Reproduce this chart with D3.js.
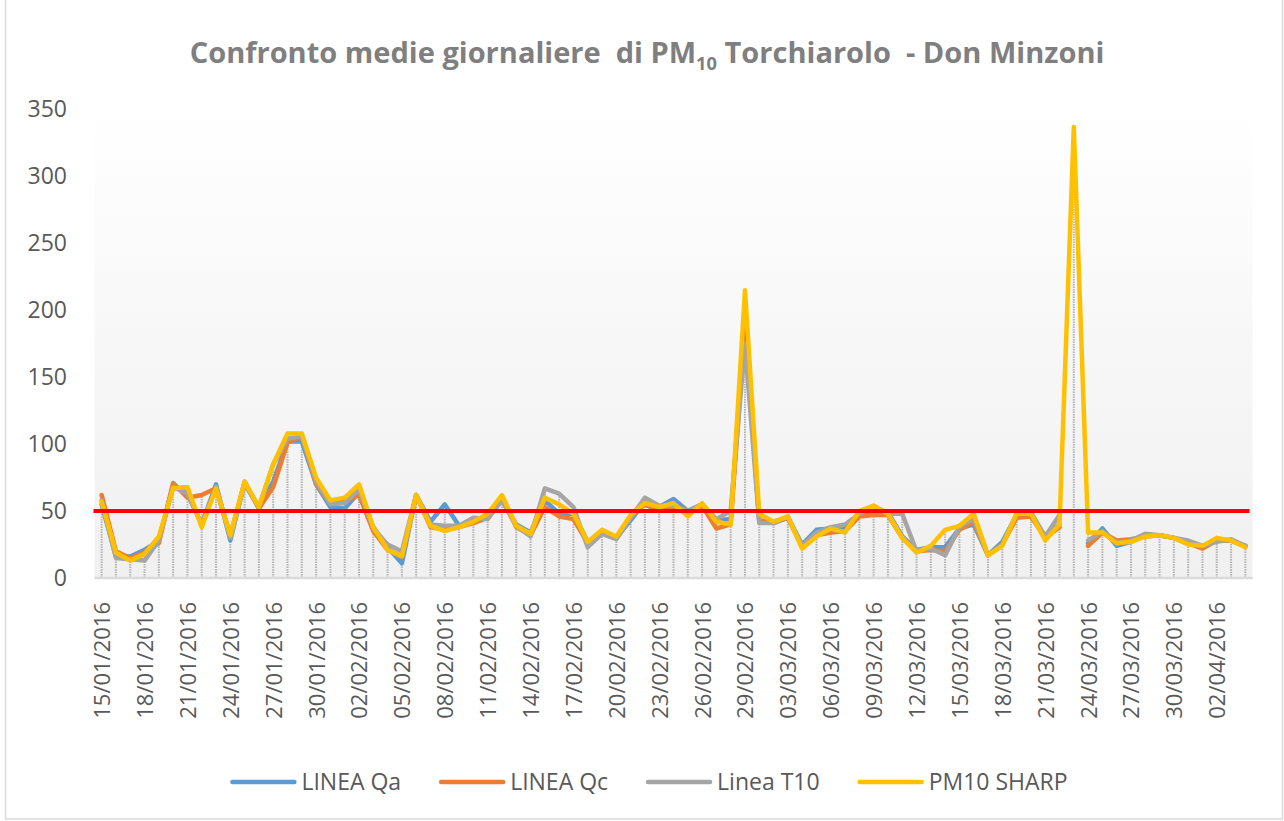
<!DOCTYPE html>
<html>
<head>
<meta charset="utf-8">
<script src="https://cdn.jsdelivr.net/npm/d3@7"></script>
<style>
  body { margin: 0; background: #fff; }
  svg { display: block; font-family: "Open Sans", "Noto Sans", sans-serif; }
</style>
</head>
<body>
<div id="chart"></div>
<script>
// ----------------------------------------------
// Data
// ----------------------------------------------
const dates = [
  '15/01/2016','16/01/2016','17/01/2016','18/01/2016','19/01/2016','20/01/2016','21/01/2016','22/01/2016','23/01/2016',
  '24/01/2016','25/01/2016','26/01/2016','27/01/2016','28/01/2016','29/01/2016','30/01/2016','31/01/2016','01/02/2016',
  '02/02/2016','03/02/2016','04/02/2016','05/02/2016','06/02/2016','07/02/2016','08/02/2016','09/02/2016','10/02/2016',
  '11/02/2016','12/02/2016','13/02/2016','14/02/2016','15/02/2016','16/02/2016','17/02/2016','18/02/2016','19/02/2016',
  '20/02/2016','21/02/2016','22/02/2016','23/02/2016','24/02/2016','25/02/2016','26/02/2016','27/02/2016','28/02/2016',
  '29/02/2016','01/03/2016','02/03/2016','03/03/2016','04/03/2016','05/03/2016','06/03/2016','07/03/2016','08/03/2016',
  '09/03/2016','10/03/2016','11/03/2016','12/03/2016','13/03/2016','14/03/2016','15/03/2016','16/03/2016','17/03/2016',
  '18/03/2016','19/03/2016','20/03/2016','21/03/2016','22/03/2016','23/03/2016','24/03/2016','25/03/2016','26/03/2016',
  '27/03/2016','28/03/2016','29/03/2016','30/03/2016','31/03/2016','01/04/2016','02/04/2016','03/04/2016','04/04/2016'
];

const lineaQa = [
  55, 16, 16, 21, 28, 70, 63, 40, 70, 28, 72, 52, 72, 102, 102, 70, 53, 52, 64, 38, 23, 11, 62, 42, 55, 39, 42,
  46, 58, 40, 34, 58, 48, 48, 27, 34, 30, 43, 57, 53, 59, 50, 55, 43, 44, 195, 42, 41, 45, 25, 36, 37, 37, 47,
  50, 49, 31, 21, 23, 23, 37, 40, 17, 27, 47, 48, 30, 40, null, 26, 37, 24, 27, 32, 32, 30, 26, 24, 28, 28, 24
];
const lineaQc = [
  62, 20, 15, 19, 26, 71, 60, 62, 67, 32, 71, 52, 68, 101, 106, 70, 56, 57, 62, 35, 21, 16, 62, 38, 36, 38, 41,
  45, 60, 38, 32, 53, 46, 44, 26, 34, 30, 46, 55, 50, 54, 48, 54, 37, 40, 190, 43, 42, 45, 23, 32, 34, 35, 46,
  47, 47, 30, 20, 21, 20, 36, 42, 17, 25, 45, 46, 30, 38, null, 24, 34, 28, 29, 31, 32, 30, 26, 22, 28, 28, 24
];
const lineaT10 = [
  58, 15, 14, 13, 28, 68, 63, 40, 68, 30, 70, 53, 85, 104, 106, 72, 55, 56, 66, 37, 25, 20, 62, 40, 39, 39, 45,
  44, 58, 39, 31, 67, 63, 53, 23, 33, 29, 45, 60, 54, 54, 50, 55, 44, 50, 175, 41, 41, 46, 24, 34, 38, 40, 48,
  54, 48, 48, 20, 22, 17, 38, 44, 17, 25, 48, 49, 31, 47, null, 28, 35, 26, 28, 33, 32, 30, 28, 24, 27, 29, 24
];
const pm10Sharp = [
  57, 19, 13, 18, 31, 67, 68, 38, 67, 32, 72, 53, 85, 108, 108, 75, 58, 60, 70, 38, 21, 16, 62, 39, 35, 38, 42,
  48, 62, 39, 33, 60, 55, 48, 27, 36, 31, 47, 56, 53, 56, 46, 56, 42, 40, 215, 48, 42, 46, 22, 31, 37, 34, 50,
  54, 48, 30, 19, 24, 36, 39, 48, 17, 24, 48, 48, 28, 40, 337, 34, 34, 26, 27, 31, 32, 30, 25, 24, 30, 28, 23
];

const seriesNames = ['LINEA Qa', 'LINEA Qc', 'Linea T10', 'PM10 SHARP'];
const seriesColors = ['#5B9BD5', '#ED7D31', '#A5A5A5', '#FFC000'];
const seriesValues = [lineaQa, lineaQc, lineaT10, pm10Sharp];

const yTicks = [0, 50, 100, 150, 200, 250, 300, 350];
const limitValue = 50;

// ----------------------------------------------
// Layout
// ----------------------------------------------
const width = 1284, height = 821;
const plot = { left: 94.5, right: 1252.5, top: 109.5, bottom: 578 };

const svg = d3.select('#chart').append('svg')
  .attr('width', width)
  .attr('height', height);

// chart area + border
svg.append('rect')
  .attr('x', 5.5).attr('y', -1)
  .attr('width', 1277).attr('height', 820)
  .attr('fill', '#fff')
  .attr('stroke', '#d9d9d9')
  .attr('stroke-width', 1.5);

const x = d3.scalePoint()
  .domain(dates)
  .range([plot.left, plot.right])
  .padding(0.5);

const y = d3.scaleLinear()
  .domain([0, 350])
  .range([plot.bottom, plot.top]);

// plot background gradient
const grad = svg.append('defs').append('linearGradient')
  .attr('id', 'plotBg')
  .attr('x1', 0).attr('y1', 0).attr('x2', 0).attr('y2', 1);
grad.append('stop').attr('offset', '0%').attr('stop-color', '#ffffff');
grad.append('stop').attr('offset', '45%').attr('stop-color', '#f8f8f8');
grad.append('stop').attr('offset', '100%').attr('stop-color', '#f0f0f0');

svg.append('rect')
  .attr('x', plot.left)
  .attr('y', plot.top)
  .attr('width', plot.right - plot.left)
  .attr('height', plot.bottom - plot.top)
  .attr('fill', 'url(#plotBg)');

// drop lines (from the highest value down to the axis)
svg.append('g')
  .selectAll('line')
  .data(dates)
  .join('line')
  .attr('x1', d => x(d))
  .attr('x2', d => x(d))
  .attr('y1', y(0))
  .attr('y2', (d, i) => y(d3.max(seriesValues, s => s[i])))
  .attr('stroke', '#b4b4b4')
  .attr('stroke-width', 2)
  .attr('stroke-dasharray', '1.5,1');

// axis line
svg.append('line')
  .attr('x1', plot.left).attr('x2', plot.right)
  .attr('y1', y(0)).attr('y2', y(0))
  .attr('stroke', '#d9d9d9')
  .attr('stroke-width', 2.5);

// series lines
const line = d3.line()
  .defined(d => d.v != null)
  .x(d => x(d.date))
  .y(d => y(d.v));

seriesValues.forEach((vals, k) => {
  svg.append('path')
    .datum(vals.map((v, i) => ({ date: dates[i], v })))
    .attr('fill', 'none')
    .attr('stroke', seriesColors[k])
    .attr('stroke-width', 4.5)
    .attr('stroke-linejoin', 'round')
    .attr('stroke-linecap', 'round')
    .attr('d', line);
});

// limit line at 50
svg.append('line')
  .attr('x1', plot.left - 1).attr('x2', plot.right - 3)
  .attr('y1', y(limitValue)).attr('y2', y(limitValue))
  .attr('stroke', '#ff0000')
  .attr('stroke-width', 4);

// ----------------------------------------------
// Axes
// ----------------------------------------------
const yAxis = svg.append('g')
  .attr('transform', 'translate(70,0)')
  .call(d3.axisLeft(y).tickValues(yTicks).tickSize(0).tickPadding(3));
yAxis.select('.domain').remove();
yAxis.selectAll('text')
  .attr('fill', '#595959')
  .style('font-size', '23px')
  .style('font-family', '"Open Sans", sans-serif');

const xAxis = svg.append('g')
  .attr('transform', `translate(0,${plot.bottom})`)
  .call(d3.axisBottom(x).tickValues(dates.filter((d, i) => i % 3 === 0)).tickSize(0));
xAxis.select('.domain').remove();
xAxis.selectAll('text')
  .attr('fill', '#595959')
  .style('font-size', '22px')
  .style('font-family', '"Open Sans", sans-serif')
  .attr('text-anchor', 'end')
  .attr('transform', 'rotate(-90)')
  .attr('x', -24)
  .attr('y', 0)
  .attr('dy', '0.36em');

// ----------------------------------------------
// Title
// ----------------------------------------------
const title = svg.append('text')
  .attr('x', 647)
  .attr('y', 63)
  .attr('text-anchor', 'middle')
  .attr('fill', '#7f7f7f')
  .style('font-weight', 'bold')
  .style('font-size', '27px')
  .style('white-space', 'pre');
title.append('tspan').text('Confronto medie giornaliere  di PM');
title.append('tspan').text('10').attr('dy', 7).style('font-size', '17px');
title.append('tspan').text(' Torchiarolo  - Don Minzoni').attr('dy', -7);

// fit title to the width it takes in the picture
const tw = title.node().getComputedTextLength();
const fs = 27 * 915 / tw;
title.style('font-size', fs + 'px');
title.selectAll('tspan').filter((d, i) => i === 1).style('font-size', (fs * 0.63) + 'px');

// ----------------------------------------------
// Legend
// ----------------------------------------------
const legend = svg.append('g').attr('transform', 'translate(0,782)');
const items = legend.selectAll('g')
  .data(seriesNames)
  .join('g');
items.append('line')
  .attr('x1', 0).attr('x2', 62)
  .attr('stroke', (d, i) => seriesColors[i])
  .attr('stroke-width', 4.5)
  .attr('stroke-linecap', 'round');
items.append('text')
  .attr('x', 69)
  .attr('dy', '0.35em')
  .attr('fill', '#595959')
  .style('font-size', '23px')
  .text(d => d);

let lx = 0;
const widths = [];
items.each(function () {
  widths.push(69 + this.querySelector('text').getComputedTextLength());
});
const gap = 40;
const total = d3.sum(widths) + gap * (widths.length - 1);
lx = 650 - total / 2;
items.attr('transform', (d, i) => {
  const t = `translate(${lx},0)`;
  lx += widths[i] + gap;
  return t;
});
</script>
</body>
</html>
